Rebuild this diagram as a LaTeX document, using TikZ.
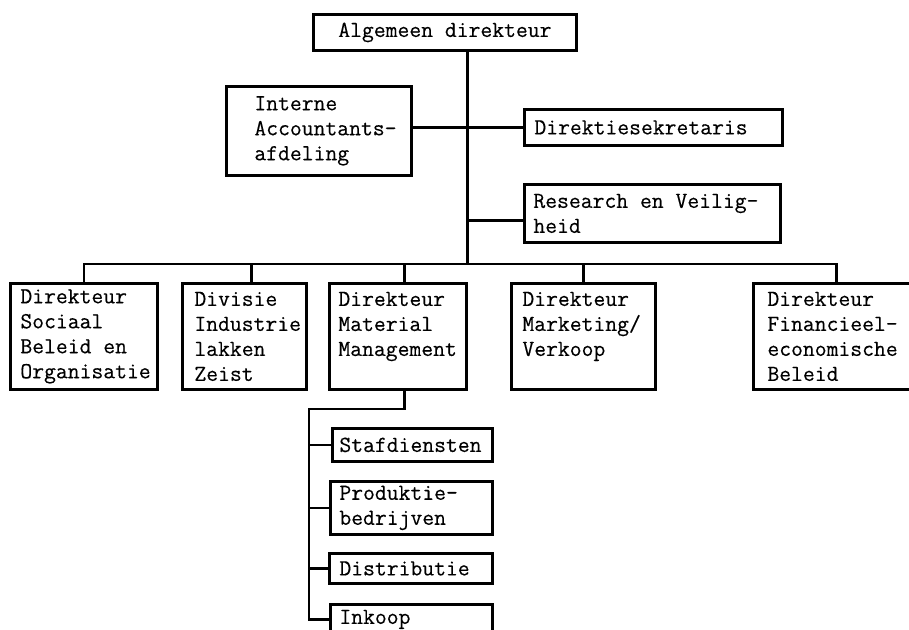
\documentclass[tikz,border=0pt]{standalone}
\usepackage{fontspec}
\newfontfamily\typed{Latin Modern Mono}[FakeBold=0.3]
% left-aligned block of lines of fixed width with a left indent
\newcommand\boxlines[3]{\parbox{#1}{\leftskip=#2\relax\parindent=0pt\rightskip=0pt plus 1fil\relax #3}}
\begin{document}
\begin{tikzpicture}[x=1pt,y=-1pt,
  every node/.style={font=\typed\fontsize{23}{25}\selectfont},
  box/.style={draw, line width=2.8pt, inner sep=0pt, anchor=north west},
  link/.style={line width=2.8pt}]
\useasboundingbox (0,0) rectangle (909,629);

% top of the organisation
\node[box, minimum width=263pt, minimum height=36pt] (top) at (312,13) {Algemeen direkteur};
\node[box, minimum height=89pt] (int) at (225,85) {\boxlines{185pt}{28pt}{Interne\\Accountants-\\afdeling}};
\node[box, minimum height=36pt] (dir) at (523,108) {\boxlines{258pt}{10pt}{Direktiesekretaris}};
\node[box, minimum height=58pt] (res) at (523,183) {\boxlines{256pt}{9pt}{Research en Veilig-\\heid}};

% directors
\node[box, minimum height=106pt] (b1) at (9,282) {\boxlines{147pt}{10pt}{Direkteur\\Sociaal\\Beleid en\\Organisatie}};
\node[box, minimum height=106pt] (b2) at (181,282) {\boxlines{124pt}{12pt}{Divisie\\Industrie\\lakken\\Zeist}};
\node[box, minimum height=106pt] (b3) at (328,282) {\boxlines{137pt}{9pt}{Direkteur\\Material\\Management\\\mbox{}}};
\node[box, minimum height=106pt] (b4) at (510,282) {\boxlines{144pt}{11pt}{Direkteur\\Marketing/\\Verkoop\\\mbox{}}};
\node[box, minimum height=106pt] (b5) at (752,282) {\boxlines{166pt}{14pt}{Direkteur\\Financieel-\\economische\\Beleid}};

% material management departments
\node[box, minimum height=33pt] (staf) at (331,427) {\boxlines{160pt}{7pt}{Stafdiensten}};
\node[box, minimum height=53pt] (prod) at (329,480) {\boxlines{162pt}{9pt}{Produktie-\\bedrijven}};
\node[box, minimum height=30pt] (dist) at (328,552) {\boxlines{163pt}{10pt}{Distributie}};
\node[box, minimum height=30pt] (ink) at (329,603) {\boxlines{162pt}{9pt}{Inkoop}};

% main trunk and staff branches
\coordinate (trunktop) at ([xshift=22.5pt]top.south);
\coordinate (bus) at (466,264);
\draw[link] (trunktop) -- (trunktop |- bus);
\draw[link] (int.east |- dir.west) -- (dir.west);
\coordinate (resin) at ([yshift=-7pt]res.west);
\draw[link] (trunktop |- resin) -- (resin);

% bus to the directors
\draw[link] (b1.north) |- (b5.north |- bus) -- (b5.north);
\draw[link] ([xshift=7pt]b2.north) -- ([xshift=7pt]b2.north |- bus);
\draw[link] ([xshift=6.5pt]b3.north) -- ([xshift=6.5pt]b3.north |- bus);
\draw[link] (b4.north) -- (b4.north |- bus);

% spine below material management
\coordinate (spine) at (309,409);
\draw[link] ([xshift=6.5pt]b3.south) |- (spine) |- (ink.west);
\draw[link] (spine |- staf.west) -- (staf.west);
\draw[link] (spine |- prod.west) -- (prod.west);
\draw[link] (spine |- dist.west) -- (dist.west);
\end{tikzpicture}
\end{document}
